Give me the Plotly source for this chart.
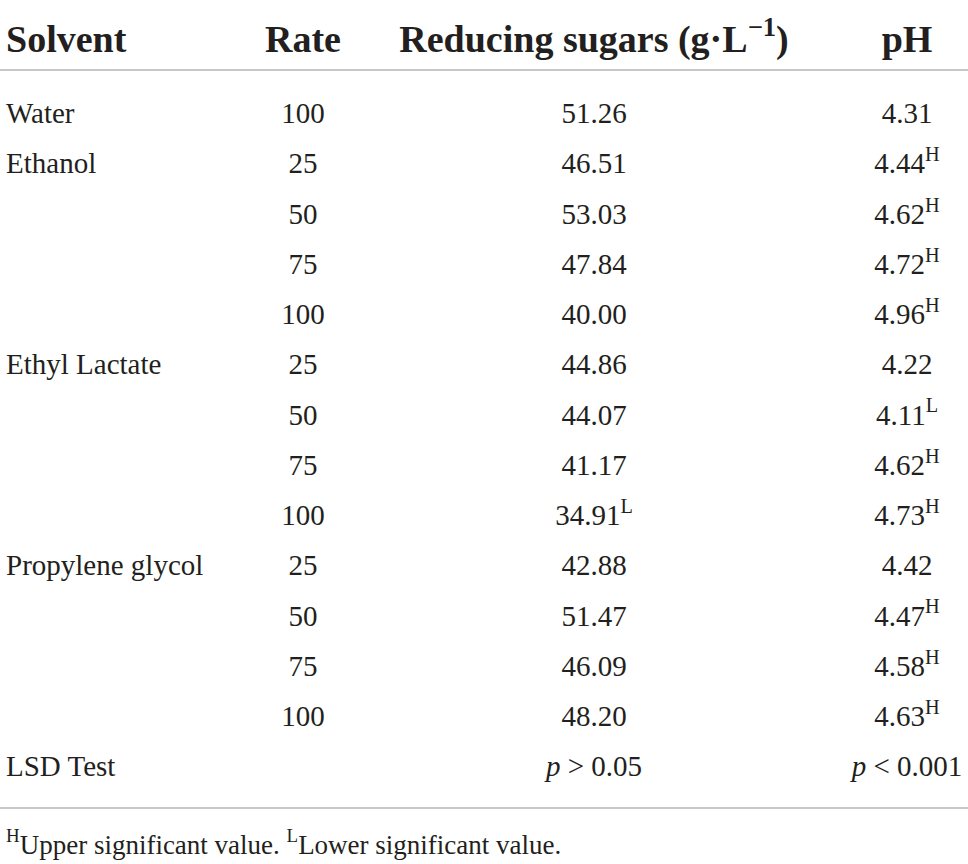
import plotly.graph_objects as go

# --- DATA ---
headers = ["Solvent", "Rate", "Reducing sugars (g·L<sup>−1</sup>)", "pH"]
solvents = ["Water", "Ethanol", "", "", "", "Ethyl Lactate", "", "", "",
            "Propylene glycol", "", "", ""]
rates = [100, 25, 50, 75, 100, 25, 50, 75, 100, 25, 50, 75, 100]
sugars = [51.26, 46.51, 53.03, 47.84, 40.00, 44.86, 44.07, 41.17, 34.91,
          42.88, 51.47, 46.09, 48.20]
sugar_marks = ["", "", "", "", "", "", "", "", "L", "", "", "", ""]
ph = [4.31, 4.44, 4.62, 4.72, 4.96, 4.22, 4.11, 4.62, 4.73, 4.42, 4.47, 4.58, 4.63]
ph_marks = ["", "H", "H", "H", "H", "", "L", "H", "H", "", "H", "H", "H"]
test_label = "LSD Test"
test_sugars = "<i>p</i> > 0.05"
test_ph = "<i>p</i> < 0.001"
footnote = "<sup>H</sup>Upper significant value. <sup>L</sup>Lower significant value."

# --- LAYOUT CONSTANTS ---
W, H = 968, 864
X_SOLV, X_RATE, X_SUG, X_PH = 6, 303, 594, 907
Y_HEAD, Y_RULE1, Y_ROW0, ROW_H, Y_RULE2, Y_FOOT = 42, 70, 116, 50.23, 808, 847
FONT = "Liberation Serif"
INK = "#231f20"
RULE = "#b4b4b4"
BODY = 29
HEAD = 38

n = len(rates)
row_y = [Y_ROW0 + i * ROW_H for i in range(n)]
test_y = Y_ROW0 + n * ROW_H

fig = go.Figure()

# header
fig.add_trace(go.Scatter(
    x=[X_SOLV], y=[Y_HEAD], text=[f"<b>{headers[0]}</b>"], mode="text",
    textposition="middle right", textfont=dict(size=HEAD, family=FONT, color=INK)))
fig.add_trace(go.Scatter(
    x=[X_RATE, X_SUG, X_PH], y=[Y_HEAD] * 3, text=[f"<b>{h}</b>" for h in headers[1:]],
    mode="text", textposition="middle center", textfont=dict(size=HEAD, family=FONT, color=INK)))

# body rows
fig.add_trace(go.Scatter(
    x=[X_SOLV] * (n + 1), y=row_y + [test_y], text=solvents + [test_label], mode="text",
    textposition="middle right", textfont=dict(size=BODY, family=FONT, color=INK)))
fig.add_trace(go.Scatter(
    x=[X_RATE] * n, y=row_y, text=[str(r) for r in rates], mode="text",
    textposition="middle center", textfont=dict(size=BODY, family=FONT, color=INK)))
fig.add_trace(go.Scatter(
    x=[X_SUG] * (n + 1), y=row_y + [test_y],
    text=[f"{v:.2f}" + (f"<sup>{m}</sup>" if m else "") for v, m in zip(sugars, sugar_marks)] + [test_sugars],
    mode="text", textposition="middle center", textfont=dict(size=BODY, family=FONT, color=INK)))
fig.add_trace(go.Scatter(
    x=[X_PH] * (n + 1), y=row_y + [test_y],
    text=[f"{v:.2f}" + (f"<sup>{m}</sup>" if m else "") for v, m in zip(ph, ph_marks)] + [test_ph],
    mode="text", textposition="middle center", textfont=dict(size=BODY, family=FONT, color=INK)))

# footnote
fig.add_trace(go.Scatter(
    x=[X_SOLV], y=[Y_FOOT], text=[footnote], mode="text",
    textposition="middle right", textfont=dict(size=27, family=FONT, color=INK)))

# rules
for yy in (Y_RULE1, Y_RULE2):
    fig.add_shape(type="line", xref="x", yref="y", x0=0, x1=W, y0=yy, y1=yy,
                  line=dict(color=RULE, width=1.5))

fig.update_layout(
    width=W, height=H, margin=dict(l=0, r=0, t=0, b=0),
    paper_bgcolor="white", plot_bgcolor="white", showlegend=False,
    xaxis=dict(range=[0, W], visible=False, fixedrange=True),
    yaxis=dict(range=[H, 0], visible=False, fixedrange=True),
)

fig.write_html("out.html", post_script="document.body.style.margin='0';",
               config={"displayModeBar": False})
